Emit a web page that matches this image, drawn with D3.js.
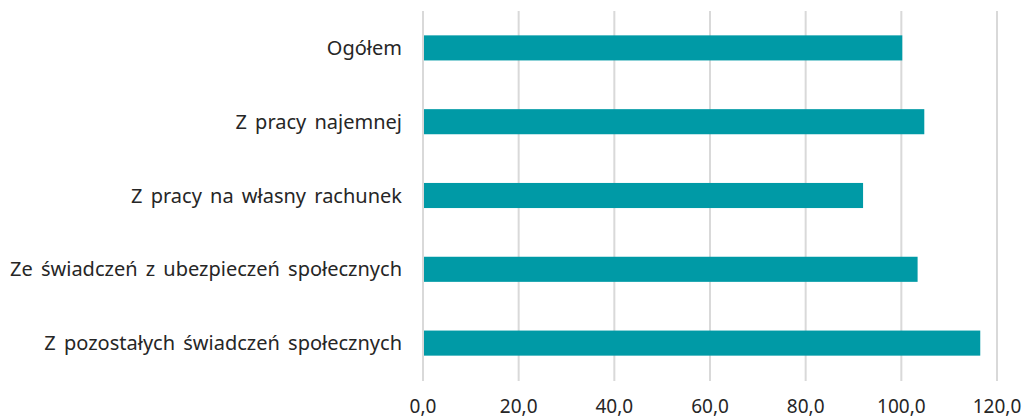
<!DOCTYPE html>
<html>
<head>
<meta charset="utf-8">
<script src="https://cdn.jsdelivr.net/npm/d3@7"></script>
<style>
  body { margin: 0; background: #fff; }
  svg { display: block; }
  text { font-family: "Noto Sans", sans-serif; fill: #262626; }
</style>
</head>
<body>
<svg id="chart" width="1024" height="418"></svg>
<script>
// categories top to bottom
var categories = [
  "Ogółem",
  "Z pracy najemnej",
  "Z pracy na własny rachunek",
  "Ze świadczeń z ubezpieczeń społecznych",
  "Z pozostałych świadczeń społecznych"
];
var values = [100.2, 104.8, 92.0, 103.4, 116.5];
var tickValues = [0, 20, 40, 60, 80, 100, 120];

var data = categories.map(function(c, i) { return { name: c, value: values[i] }; });

var svg = d3.select("#chart");

var x = d3.scaleLinear().domain([0, 120]).range([423, 997]);
var y = d3.scaleBand()
  .domain(categories)
  .range([11, 380])
  .paddingInner(0.66)
  .paddingOuter(0.33);

var fmt = function(d) { return d3.format(".1f")(d).replace(".", ","); };

// gridlines
svg.append("g")
  .selectAll("line")
  .data(tickValues)
  .enter().append("line")
  .attr("x1", function(d) { return x(d); })
  .attr("x2", function(d) { return x(d); })
  .attr("y1", 11)
  .attr("y2", 381)
  .attr("stroke", "#d9d9d9")
  .attr("stroke-width", 2);

// bars
svg.append("g")
  .selectAll("rect")
  .data(data)
  .enter().append("rect")
  .attr("x", x(0) + 1)
  .attr("y", function(d) { return y(d.name); })
  .attr("width", function(d) { return x(d.value) - x(0) - 1; })
  .attr("height", y.bandwidth())
  .attr("fill", "#009aa6");

// category labels
svg.append("g")
  .selectAll("text")
  .data(categories)
  .enter().append("text")
  .attr("x", 402)
  .attr("y", function(d) { return y(d) + y.bandwidth() / 2; })
  .attr("dy", "0.35em")
  .attr("text-anchor", "end")
  .style("font-size", "20px")
  .style("word-spacing", "3px")
  .text(function(d) { return d; });

// x tick labels
svg.append("g")
  .selectAll("text")
  .data(tickValues)
  .enter().append("text")
  .attr("x", function(d) { return x(d); })
  .attr("y", 413)
  .attr("text-anchor", "middle")
  .style("font-size", "19px")
  .text(fmt);
</script>
</body>
</html>
